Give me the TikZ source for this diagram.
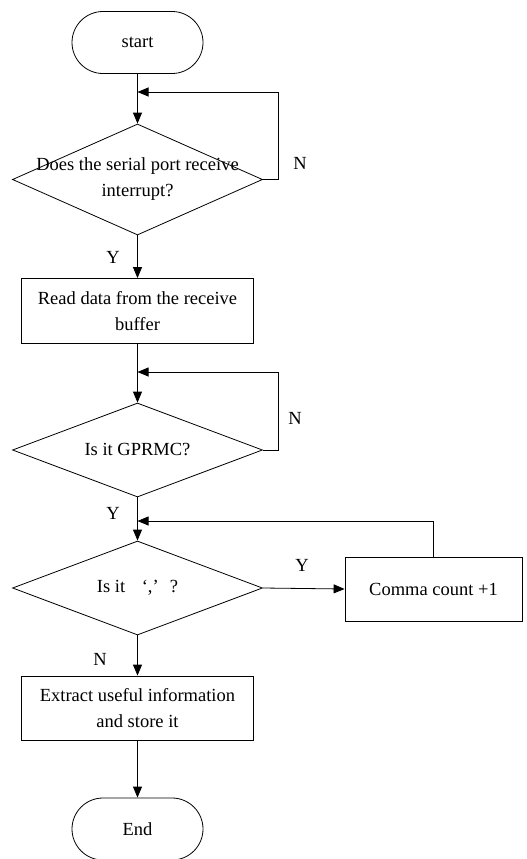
\documentclass[tikz,border=0pt]{standalone}
\usepackage{fontspec}
\setmainfont{Liberation Serif}
\usetikzlibrary{shapes.geometric,arrows.meta}
\begin{document}
\begin{tikzpicture}[x=1pt,y=-1pt,
  every node/.style={font=\fontsize{18.5}{26}\selectfont},
  line/.style={draw=black,line width=0.8pt},
  arr/.style={line,-{Triangle[length=11pt,width=9pt]}},
  term/.style={line,rectangle,rounded corners=31pt,minimum width=131pt,minimum height=62pt,inner sep=0pt},
  proc/.style={line,rectangle,minimum width=232pt,minimum height=65pt,inner sep=0pt,align=center},
  dec/.style={line,diamond,minimum width=250pt,minimum height=111pt,inner sep=0pt},
  lbl/.style={inner sep=0pt}]
\useasboundingbox (0,0) rectangle (527,859);
\node[term] (start) at (137.5,42.5) {start};
\node[dec,label={[align=center,lbl]center:Does the serial port receive\\interrupt?}] (d1) at (137.5,179.5) {};
\node[proc] (b1) at (137.5,311) {Read data from the receive\\buffer};
\node[dec,minimum height=94pt,label={[lbl]center:Is it GPRMC?}] (d2) at (137.5,450) {};
\node[dec,minimum height=94pt,label={[lbl]center:Is it\hspace{0.9em}‘,’\hspace{0.6em}?}] (d3) at (137.5,588) {};
\node[proc,minimum width=177pt,minimum height=64pt] (b3) at (433.5,589) {Comma count +1};
\node[proc,minimum height=64pt] (b4) at (137.5,708) {Extract useful information\\and store it};
\node[term] (end) at (137.5,829) {End};
\coordinate (j1) at (137.5,92);
\coordinate (j2) at (137.5,372);
\coordinate (j3) at (137.5,521);
\draw[arr] (start.south) -- (d1.north);
\draw[arr] (d1.east) -- ++(15,0) |- (j1);
\draw[arr] (d1.south) -- (b1.north);
\draw[arr] (b1.south) -- (d2.north);
\draw[arr] (d2.east) -- ++(15,0) |- (j2);
\draw[arr] (d2.south) -- (d3.north);
\draw[arr] (d3.east) -- (b3.west);
\draw[arr] (b3.north) |- (j3);
\draw[arr] (d3.south) -- (b4.north);
\draw[arr] (b4.south) -- (end.north);
\node[lbl] (n1) at (300,163) {N};
\node[lbl] (y1) at (113,257) {Y};
\node[lbl] (n2) at (295,418) {N};
\node[lbl] (y2) at (113,513) {Y};
\node[lbl] (y3) at (302,565) {Y};
\node[lbl] (n3) at (100,659) {N};
\end{tikzpicture}
\end{document}
